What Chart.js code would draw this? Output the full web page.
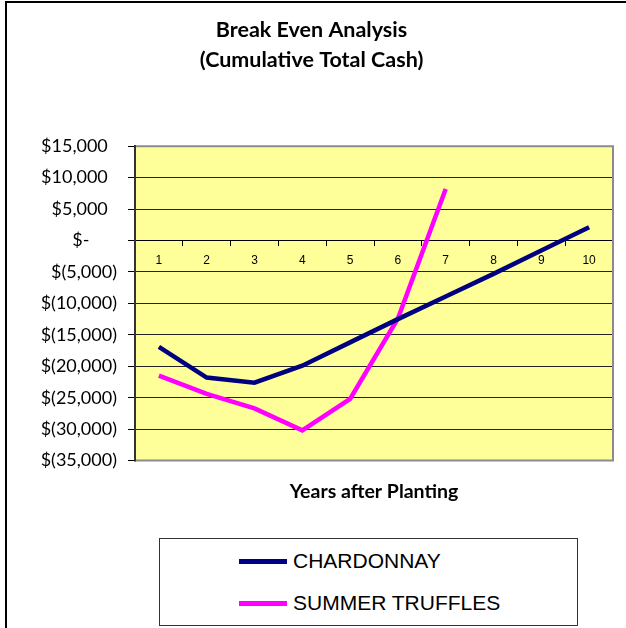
<!DOCTYPE html>
<html>
<head>
<meta charset="utf-8">
<script src="https://cdn.jsdelivr.net/npm/chart.js@4/dist/chart.umd.min.js"></script>
<style>
  html, body { margin: 0; padding: 0; background: #fff; }
  #wrap { position: relative; width: 626px; height: 628px; overflow: hidden; background: #fff; }
  #frame { position: absolute; left: 5px; top: 1px; width: 700px; height: 700px; border: 2px solid #000; box-sizing: border-box; }
  #c { position: absolute; left: 0; top: 0; }
  #legend { position: absolute; left: 159px; top: 538px; width: 419px; height: 88px; border: 1px solid #333; box-sizing: border-box; background: #fff; }
  .item { position: absolute; left: 79px; height: 24px; display: flex; align-items: center; font-family: "Liberation Sans", Arial, sans-serif; font-size: 21px; color: #000; }
  .swatch { width: 48px; height: 5px; margin-right: 6px; }
</style>
</head>
<body>
<div id="wrap">
  <div id="frame"></div>
  <canvas id="c" width="626" height="628"></canvas>
  <div id="legend"></div>
</div>
<script>
const years = ['1', '2', '3', '4', '5', '6', '7', '8', '9', '10'];
const chardonnay = [-16900, -21800, -22600, -19900, -16200, -12500, -8900, -5300, -1600, 2100];
const summerTruffles = [-21500, -24400, -26700, -30200, -25200, -12400, 8200, null, null, null];
const seriesNames = ['CHARDONNAY', 'SUMMER TRUFFLES'];
const yTickLabels = ['$(35,000)', '$(30,000)', '$(25,000)', '$(20,000)', '$(15,000)', '$(10,000)', '$(5,000)', '$-', '$5,000', '$10,000', '$15,000'];
const titleLines = ['Break Even Analysis', '(Cumulative Total Cash)'];
const xTitle = 'Years after Planting';

const colors = ['#000080', '#FF00FF'];

const plotBg = {
  id: 'plotBg',
  beforeDraw(chart) {
    const { ctx, chartArea: a } = chart;
    ctx.save();
    ctx.fillStyle = '#FFFF99';
    ctx.fillRect(a.left, a.top, a.right - a.left, a.bottom - a.top);
    ctx.restore();
  },
  afterDraw(chart) {
    const { ctx, chartArea: a } = chart;
    ctx.save();
    ctx.strokeStyle = '#8c8c8c';
    ctx.lineWidth = 2;
    ctx.beginPath();
    ctx.moveTo(a.left, a.top);
    ctx.lineTo(a.right, a.top);
    ctx.lineTo(a.right, a.bottom);
    ctx.lineTo(a.left, a.bottom);
    ctx.stroke();
    ctx.strokeStyle = '#333';
    ctx.beginPath();
    ctx.moveTo(a.left, a.top - 1);
    ctx.lineTo(a.left, a.bottom + 1);
    ctx.stroke();
    ctx.restore();
  }
};

function yLabel(value, index) {
  const s = yTickLabels[index];
  if (value === 0) return s + '      ';
  if (value > 0) return s + '  ';
  return s;
}

const chart = new Chart(document.getElementById('c'), {
  type: 'line',
  data: {
    labels: years,
    datasets: [
      { label: seriesNames[0], data: chardonnay, borderColor: colors[0], backgroundColor: colors[0], borderWidth: 4.5, pointRadius: 0, tension: 0, spanGaps: false },
      { label: seriesNames[1], data: summerTruffles, borderColor: colors[1], backgroundColor: colors[1], borderWidth: 4.5, pointRadius: 0, tension: 0, spanGaps: false }
    ]
  },
  options: {
    responsive: false,
    animation: false,
    devicePixelRatio: 1,
    layout: { padding: { left: 10, right: 13, top: 0, bottom: 125 } },
    plugins: {
      legend: { display: false },
      tooltip: { enabled: false },
      title: {
        display: true,
        text: titleLines,
        color: '#000',
        font: { family: 'Lato, "Open Sans", sans-serif', size: 21.5, weight: 'bold', lineHeight: 1.4 },
        padding: { top: 15, bottom: 71 }
      }
    },
    scales: {
      x: {
        type: 'category',
        position: { y: 0 },
        offset: true,
        grid: { offset: true, drawOnChartArea: false, drawTicks: true, tickLength: 5, color: '#000', lineWidth: 1 },
        border: { display: true, color: '#000', width: 1 },
        ticks: { color: '#000', padding: 8, maxRotation: 0, autoSkip: false, font: { family: '"Liberation Sans", Arial, sans-serif', size: 12 } }
      },
      xTitleAxis: {
        type: 'category',
        axis: 'x',
        position: 'bottom',
        offset: true,
        grid: { display: false, drawTicks: false, drawOnChartArea: false },
        border: { display: false },
        ticks: { display: false },
        title: {
          display: true,
          text: xTitle,
          color: '#000',
          font: { family: 'Lato, "Open Sans", sans-serif', size: 19.5, weight: 'bold', lineHeight: 1.2 },
          padding: { top: 19, bottom: 0 }
        }
      },
      y: {
        min: -35000,
        max: 15000,
        afterFit(s) { s.width = 125; },
        grid: { color: '#222', lineWidth: 1, drawTicks: true, tickLength: 7, tickColor: '#000' },
        border: { display: true, color: '#333', width: 2 },
        ticks: { stepSize: 5000, color: '#000', padding: 11, callback: yLabel, font: { family: 'Lato, "Open Sans", sans-serif', size: 18 } }
      }
    }
  },
  plugins: [plotBg]
});

const legend = document.getElementById('legend');
chart.data.datasets.forEach((ds, i) => {
  const item = document.createElement('div');
  item.className = 'item';
  item.style.top = (i === 0 ? 10 : 52) + 'px';
  const sw = document.createElement('span');
  sw.className = 'swatch';
  sw.style.background = ds.borderColor;
  const tx = document.createElement('span');
  tx.textContent = ds.label;
  item.appendChild(sw);
  item.appendChild(tx);
  legend.appendChild(item);
});
</script>
</body>
</html>
